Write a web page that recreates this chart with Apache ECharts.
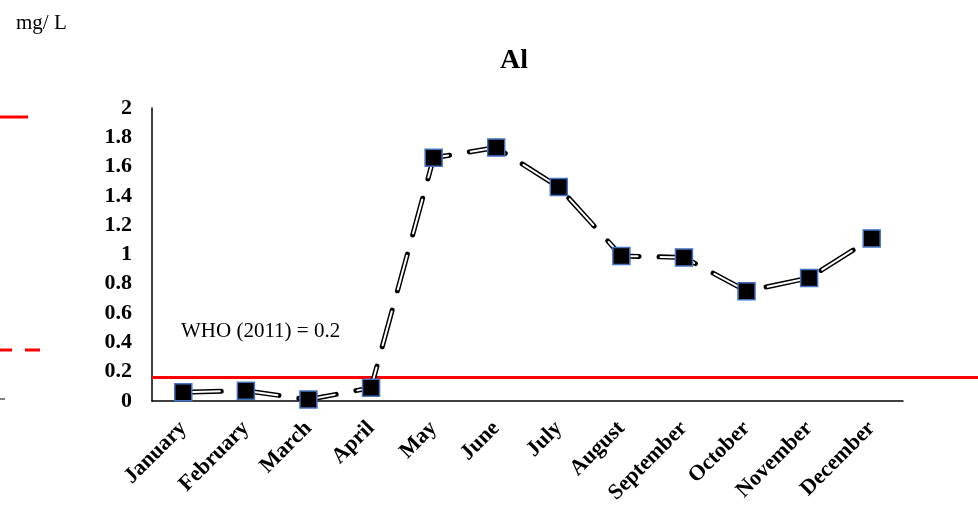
<!DOCTYPE html>
<html>
<head>
<meta charset="utf-8">
<script src="https://cdn.jsdelivr.net/npm/echarts@6/dist/echarts.min.js"></script>
<style>
  html, body { margin: 0; padding: 0; background: #fff; }
  #chart { width: 978px; height: 507px; }
</style>
</head>
<body>
<div id="chart"></div>
<script>
"use strict";

// data
const months = ["January", "February", "March", "April", "May", "June",
  "July", "August", "September", "October", "November", "December"];
const al_values = [0.06, 0.07, 0.01, 0.09, 1.66, 1.73, 1.46, 0.99, 0.98, 0.75, 0.84, 1.11];
const who_limit = [0.16, 0.16]; // drawn position of the WHO line
const y_ticks = [0, 0.2, 0.4, 0.6, 0.8, 1, 1.2, 1.4, 1.6, 1.8, 2];

const font = "Liberation Serif";
const chart = echarts.init(document.getElementById("chart"));

chart.setOption({
  animation: false,
  title: {
    text: "Al",
    left: 509,
    top: 42,
    textAlign: "center",
    textStyle: { fontFamily: font, fontSize: 28, fontWeight: "bold", color: "#000" },
  },
  grid: [
    { left: 152, right: 75, top: 108, bottom: 106 },
    { left: 152, right: 0, top: 108, bottom: 106 }, // for the WHO line, runs past the axis
  ],
  xAxis: [
    {
      type: "category",
      data: months,
      gridIndex: 0,
      boundaryGap: true,
      axisLine: { lineStyle: { color: "#000", width: 1.5 } },
      axisTick: { show: false },
      axisLabel: {
        rotate: 45,
        interval: 0,
        margin: 24,
        fontFamily: font,
        fontSize: 22,
        fontWeight: "bold",
        color: "#000",
      },
    },
    { type: "value", gridIndex: 1, min: 0, max: 1, show: false },
  ],
  yAxis: [
    {
      type: "value",
      gridIndex: 0,
      min: 0,
      max: 2,
      interval: 0.2,
      axisLine: { show: true, lineStyle: { color: "#000", width: 1.5 } },
      axisTick: { show: false },
      splitLine: { show: false },
      axisLabel: {
        margin: 20,
        fontFamily: font,
        fontSize: 22,
        fontWeight: "bold",
        color: "#000",
        formatter: function (v) {
          const t = y_ticks.find((x) => Math.abs(x - v) < 1e-6);
          return t === undefined ? "" : String(t);
        },
      },
    },
    { type: "value", gridIndex: 1, min: 0, max: 2, show: false },
  ],
  series: [
    {
      // WHO guideline
      type: "line",
      xAxisIndex: 1,
      yAxisIndex: 1,
      data: who_limit.map((v, i) => [i, v]),
      symbol: "none",
      silent: true,
      z: 1,
      lineStyle: { color: "#ff0000", width: 3 },
    },
    {
      // outer (black) part of the double dash
      type: "line",
      data: al_values,
      symbol: "none",
      silent: true,
      z: 2,
      lineStyle: { color: "#000", width: 5, type: [38, 20], cap: "round" },
    },
    {
      // inner (white) part + markers
      type: "line",
      data: al_values,
      symbol: "rect",
      symbolSize: 17,
      silent: true,
      z: 3,
      lineStyle: { color: "#fff", width: 2, type: [35, 23], dashOffset: -1.5, cap: "round" },
      itemStyle: { color: "#000", borderColor: "#4472c4", borderWidth: 1.5 },
    },
  ],
  graphic: [
    {
      type: "text",
      left: 16,
      top: 13,
      style: { text: "mg/ L", fontFamily: font, fontSize: 21, fill: "#000" },
    },
    {
      type: "text",
      left: 181,
      top: 321,
      style: { text: "WHO (2011) = 0.2", fontFamily: font, fontSize: 21, fill: "#000" },
    },
    // cut-off legend bits at the left edge
    { type: "line", shape: { x1: 0, y1: 117, x2: 28, y2: 117 }, style: { stroke: "#ff0000", lineWidth: 3 } },
    { type: "line", shape: { x1: 0, y1: 350, x2: 12, y2: 350 }, style: { stroke: "#ff0000", lineWidth: 3 } },
    { type: "line", shape: { x1: 25, y1: 350, x2: 40, y2: 350 }, style: { stroke: "#ff0000", lineWidth: 3 } },
    { type: "line", shape: { x1: 0, y1: 399, x2: 5, y2: 399 }, style: { stroke: "#000", lineWidth: 1 } },
  ],
});
</script>
</body>
</html>
